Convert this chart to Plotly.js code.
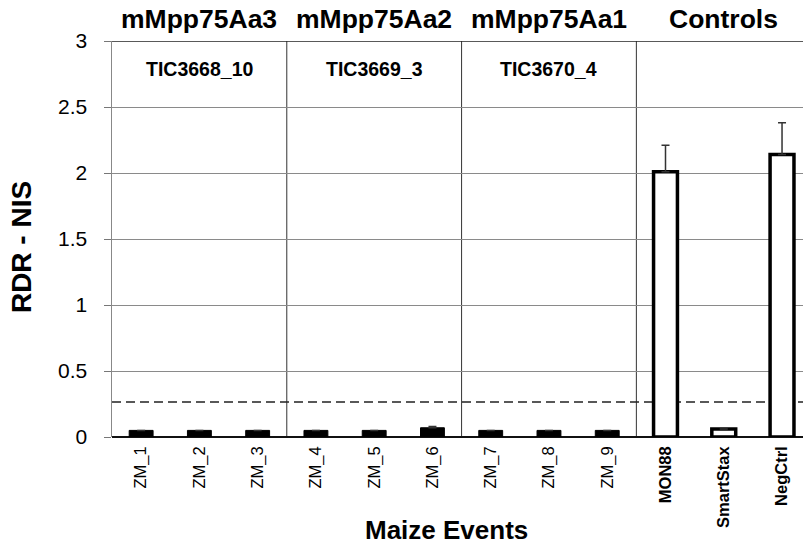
<!DOCTYPE html>
<html>
<head>
<meta charset="utf-8">
<script src="https://cdn.plot.ly/plotly-3.0.1.min.js"></script>
<style>html,body{margin:0;padding:0;background:#fff;}#chart{width:803px;height:544px;}</style>
</head>
<body>
<div id="chart"></div>
<script>
// ---- data ----
var eventCats = ['ZM_1','ZM_2','ZM_3','ZM_4','ZM_5','ZM_6','ZM_7','ZM_8','ZM_9'];
var eventVals = [0.05,0.05,0.05,0.05,0.05,0.07,0.05,0.05,0.05];
var eventErr  = [0,0,0,0,0,0.01,0,0,0];
var controlCats = ['MON88','SmartStax','NegCtrl'];
var controlVals = [2.01,0.06,2.14];
var controlErr  = [0.20,0,0.24];
var threshold = 0.265;
var groupNames = ['mMpp75Aa3','mMpp75Aa2','mMpp75Aa1','Controls'];
var groupSubs  = ['TIC3668_10','TIC3669_3','TIC3670_4',''];
var groupCenters = ['ZM_2','ZM_5','ZM_8','SmartStax'];
var separators = [2.5,5.5,8.5];
var yTicks = [0,0.5,1,1.5,2,2.5,3];
var yTickText = ['0','0.5','1','1.5','2','2.5','3'];

var allCats = eventCats.concat(controlCats);
var tickText = eventCats.concat(controlCats.map(function(c){return '<b>'+c+'</b>';}));
var FONT = 'Liberation Sans, Arial, Helvetica, sans-serif';

var traces = [
  {type:'bar', x:eventCats, y:eventVals, width:0.41,
   marker:{color:'#000', line:{color:'#000', width:1}},
   error_y:{type:'data', symmetric:false, array:eventErr, arrayminus:eventErr.map(function(){return 0;}),
            color:'#333', thickness:1.5, width:4},
   hoverinfo:'x+y'},
  {type:'bar', x:controlCats, y:controlVals, width:0.41,
   marker:{color:'#fff', line:{color:'#000', width:3.5}},
   error_y:{type:'data', symmetric:false, array:controlErr, arrayminus:controlErr.map(function(){return 0;}),
            color:'#333', thickness:1.5, width:4},
   hoverinfo:'x+y'}
];

var shapes = [];
separators.forEach(function(s){
  shapes.push({type:'line', xref:'x', yref:'paper', x0:s, x1:s, y0:0, y1:1,
               line:{color:'#333', width:1}, layer:'below'});
});
shapes.push({type:'line', xref:'paper', yref:'y', x0:0, x1:1, y0:threshold, y1:threshold,
             line:{color:'#222', width:1.3, dash:'9px,5px'}, layer:'below'});
shapes.push({type:'line', xref:'paper', yref:'y', x0:0, x1:1, y0:3, y1:3,
             line:{color:'#222', width:1.5}});

var annotations = [];
groupNames.forEach(function(g,i){
  annotations.push({xref:'x', yref:'paper', x:groupCenters[i], y:1.012, yanchor:'bottom',
    text:'<b>'+g+'</b>', showarrow:false, font:{family:FONT, size:26.5, color:'#000'}});
  if (groupSubs[i]) annotations.push({xref:'x', yref:'paper', x:groupCenters[i], y:0.93, yanchor:'middle',
    text:'<b>'+groupSubs[i]+'</b>', showarrow:false, font:{family:FONT, size:19.5, color:'#000'}});
});
annotations.push({xref:'paper', yref:'paper', x:0.484, y:-0.235, yanchor:'middle', xanchor:'center',
  text:'<b>Maize Events</b>', showarrow:false, font:{family:FONT, size:26, color:'#000'}});
annotations.push({xref:'paper', yref:'paper', x:-0.130, y:0.48, xanchor:'center', yanchor:'middle',
  textangle:-90, text:'<b>RDR - NIS</b>', showarrow:false, font:{family:FONT, size:28, color:'#000'}});

var layout = {
  width:803, height:544,
  margin:{l:112, r:0, t:41, b:107},
  paper_bgcolor:'#fff', plot_bgcolor:'#fff',
  showlegend:false, barmode:'overlay',
  font:{family:FONT, color:'#000'},
  xaxis:{type:'category', categoryorder:'array', categoryarray:allCats,
         range:[-0.5, 11.36], tickvals:allCats, ticktext:tickText, tickangle:-90,
         tickfont:{family:FONT, size:16.5, color:'#000'}, ticks:'', ticklabelstandoff:5,
         showgrid:false, zeroline:false, showline:false, fixedrange:true},
  yaxis:{range:[0,3], tickvals:yTicks, ticktext:yTickText,
         tickfont:{family:FONT, size:21, color:'#000'},
         ticks:'outside', ticklen:7, tickcolor:'#777', tickwidth:1, ticklabelstandoff:12,
         showgrid:true, gridcolor:'#8a8a8a', gridwidth:1,
         zeroline:true, zerolinecolor:'#111', zerolinewidth:2,
         showline:true, linecolor:'#888', linewidth:1.5, fixedrange:true},
  shapes:shapes, annotations:annotations
};

Plotly.newPlot('chart', traces, layout, {displayModeBar:false, staticPlot:true});
</script>
</body>
</html>
